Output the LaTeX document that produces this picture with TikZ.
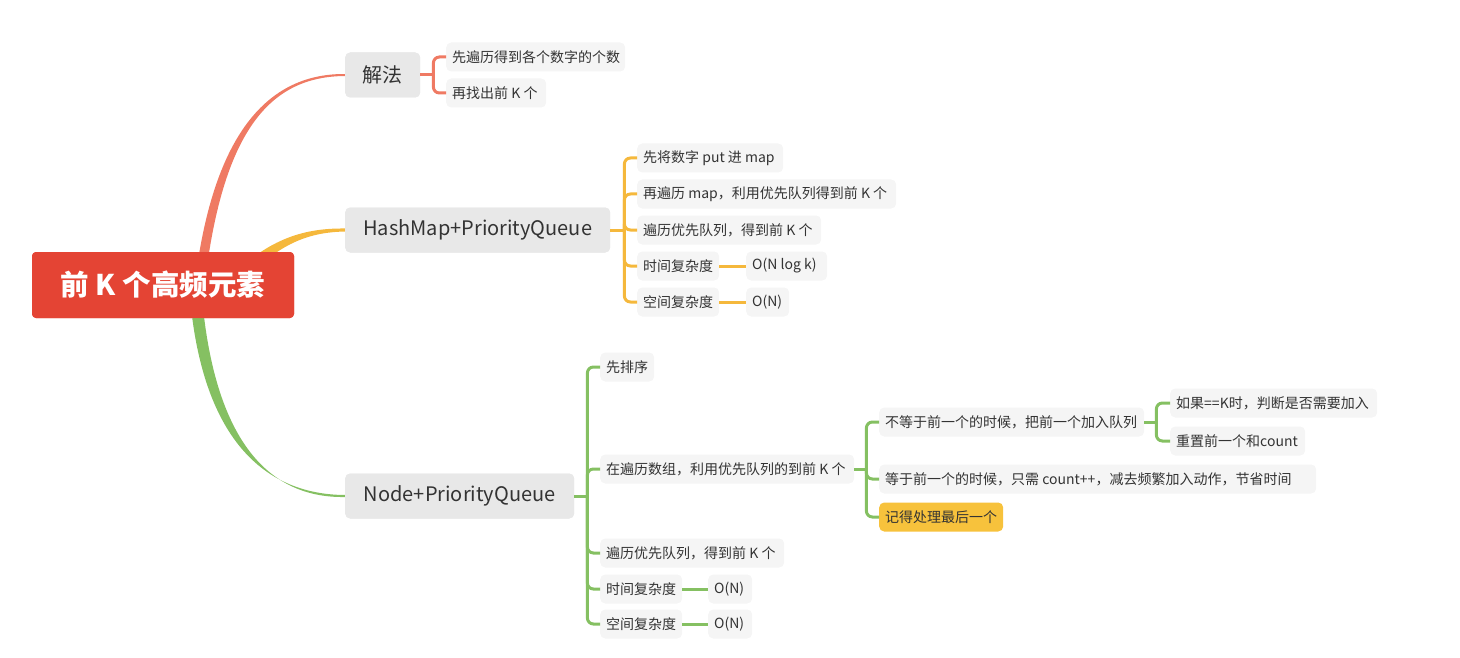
\documentclass[tikz,border=0pt]{standalone}
\usepackage{fontspec}
\newfontfamily\cjk{Noto Sans CJK SC}
\usetikzlibrary{calc}
\definecolor{cRoot}{HTML}{E44434}
\definecolor{cRed}{HTML}{EF7A63}
\definecolor{cYel}{HTML}{F5B83C}
\definecolor{cGrn}{HTML}{85C062}
\definecolor{cBox}{HTML}{E8E8E8}
\definecolor{cLeaf}{HTML}{F5F5F5}
\definecolor{cTxt}{HTML}{333333}
\definecolor{cHi}{HTML}{F7C23C}
\newcommand\leafbox[2]{\makebox[#1pt][l]{#2}}
\tikzset{
  rootbox/.style={fill=cRoot, rounded corners=4pt, text=white, minimum width=262pt, minimum height=66pt, inner sep=0pt,
    font=\cjk\bfseries\fontsize{28.5}{32}\selectfont},
  topic/.style={fill=cBox, rounded corners=5pt, text=cTxt, anchor=west, minimum height=45pt, inner xsep=8pt, inner ysep=0pt,
    font=\cjk\fontsize{20}{23}\selectfont},
  leaf/.style={fill=cLeaf, rounded corners=5pt, text=cTxt, anchor=west, minimum height=29pt, inner xsep=6pt, inner ysep=0pt,
    font=\cjk\fontsize{14}{16}\selectfont},
  hileaf/.style={leaf, fill=cHi},
  link/.style={line width=3pt, rounded corners=6pt},
}
\begin{document}
\begin{tikzpicture}[x=1pt,y=-1pt]
\useasboundingbox (0,0) rectangle (1460,658);
% placement of nodes used by the tapered branches
\node[topic, minimum width=75pt] (jf) at (345,75) {解法};
\node[topic, minimum width=265pt] (hm) at (345,230) {HashMap+PriorityQueue};
\node[topic, minimum width=229pt] (np) at (345,496) {Node+PriorityQueue};
\node[rootbox] (root) at (163,285) {};
% tapered branches
\fill[cRed] ([shift={(30,15)}]root.center) .. controls ([shift={(47,-155)}]root.center) and ([shift={(-75,-1.5)}]jf.west) .. ([shift={(0,-1)}]jf.west)
  -- ([shift={(0,1)}]jf.west) .. controls ([shift={(-75,1.5)}]jf.west) and ([shift={(57,-155)}]root.center) .. ([shift={(40,15)}]root.center) -- cycle;
\fill[cYel] ([shift={(63,-4)}]root.center) .. controls ([shift={(103,-44)}]root.center) and ([shift={(-45,-2)}]hm.west) .. ([shift={(0,-1.5)}]hm.west)
  -- ([shift={(0,1.5)}]hm.west) .. controls ([shift={(-45,2.5)}]hm.west) and ([shift={(111,-36)}]root.center) .. ([shift={(71,4)}]root.center) -- cycle;
\fill[cGrn] ([shift={(26,0)}]root.center) .. controls ([shift={(36,148)}]root.center) and ([shift={(-85,-1.5)}]np.west) .. ([shift={(0,-1)}]np.west)
  -- ([shift={(0,1)}]np.west) .. controls ([shift={(-85,2.5)}]np.west) and ([shift={(48,142)}]root.center) .. ([shift={(38,0)}]root.center) -- cycle;
% nodes on top
\node[rootbox] (root) at (163,285) {前 K 个高频元素};
\node[topic, minimum width=75pt] (jf) at (345,75) {解法};
\node[topic, minimum width=265pt] (hm) at (345,230) {HashMap+PriorityQueue};
\node[topic, minimum width=229pt] (np) at (345,496) {Node+PriorityQueue};
% leaves
\node[leaf] (a1) at (446,57) {\leafbox{167}{先遍历得到各个数字的个数}};
\node[leaf] (a2) at (446,93) {\leafbox{88}{再找出前 K 个}};
\node[leaf] (b1) at (637,158) {\leafbox{134}{先将数字 put 进 map}};
\node[leaf] (b2) at (637,194) {\leafbox{247}{再遍历 map，利用优先队列得到前 K 个}};
\node[leaf] (b3) at (637,230) {\leafbox{172}{遍历优先队列，得到前 K 个}};
\node[leaf] (b4) at (637,266) {\leafbox{70}{时间复杂度}};
\node[leaf] (b4v) at (746,266) {\leafbox{69}{O(N log k)}};
\node[leaf] (b5) at (637,302) {\leafbox{70}{空间复杂度}};
\node[leaf] (b5v) at (746,302) {\leafbox{31}{O(N)}};
\node[leaf] (c1) at (600,367) {\leafbox{42}{先排序}};
\node[leaf] (c2) at (600,469) {\leafbox{242}{在遍历数组，利用优先队列的到前 K 个}};
\node[leaf] (c3) at (600,553) {\leafbox{172}{遍历优先队列，得到前 K 个}};
\node[leaf] (c4) at (600,589) {\leafbox{70}{时间复杂度}};
\node[leaf] (c4v) at (708,589) {\leafbox{32}{O(N)}};
\node[leaf] (c5) at (600,624) {\leafbox{70}{空间复杂度}};
\node[leaf] (c5v) at (708,624) {\leafbox{32}{O(N)}};
\node[leaf] (d1) at (879,422) {\leafbox{253}{不等于前一个的时候，把前一个加入队列}};
\node[leaf] (d2) at (879,479) {\leafbox{425}{等于前一个的时候，只需 count++，减去频繁加入动作，节省时间}};
\node[hileaf] (d3) at (879,517) {\leafbox{112}{记得处理最后一个}};
\node[leaf] (e1) at (1170,403) {\leafbox{195}{如果==K时，判断是否需要加入}};
\node[leaf] (e2) at (1170,441) {\leafbox{123}{重置前一个和count}};
% junctions
\coordinate (ja) at ([shift={(13,0)}]jf.east);
\coordinate (jb) at ([shift={(14,0)}]hm.east);
\coordinate (jc) at ([shift={(13,0)}]np.east);
\coordinate (jd) at ([shift={(12,0)}]c2.east);
\coordinate (je) at ([shift={(12,0)}]d1.east);
% red connectors
\draw[link, cRed] (jf.east) -- (ja);
\draw[link, cRed] (ja) |- (a1.west);
\draw[link, cRed] (ja) |- (a2.west);
% yellow connectors
\draw[link, cYel] (hm.east) -- (jb);
\foreach \n in {b1,b2,b3,b4,b5} \draw[link, cYel] (jb) |- (\n.west);
\draw[link, cYel] (b4.east) -- (b4v.west);
\draw[link, cYel] (b5.east) -- (b5v.west);
% green connectors
\draw[link, cGrn] (np.east) -- (jc);
\foreach \n in {c1,c2,c3,c4,c5} \draw[link, cGrn] (jc) |- (\n.west);
\draw[link, cGrn] (c4.east) -- (c4v.west);
\draw[link, cGrn] (c5.east) -- (c5v.west);
\draw[link, cGrn] (c2.east) -- (jd);
\foreach \n in {d1,d2,d3} \draw[link, cGrn] (jd) |- (\n.west);
\draw[link, cGrn] (d1.east) -- (je);
\foreach \n in {e1,e2} \draw[link, cGrn] (je) |- (\n.west);
\end{tikzpicture}
\end{document}
